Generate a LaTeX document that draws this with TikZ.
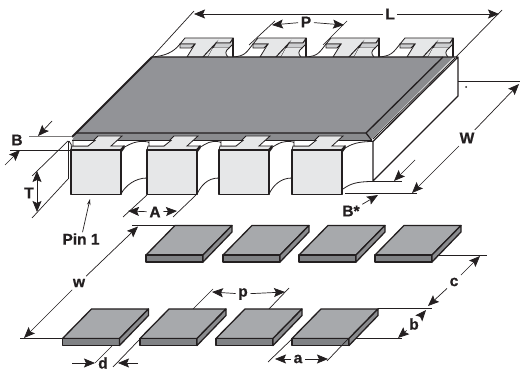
\documentclass[tikz,border=0pt]{standalone}
\usepackage{fontspec}
\setmainfont[BoldFeatures={FakeBold=0.8}]{Liberation Sans}
\usetikzlibrary{arrows.meta}
\definecolor{topGray}{RGB}{146, 147, 151}
\definecolor{bevelGray}{RGB}{138, 139, 142}
\definecolor{pinLight}{RGB}{230, 231, 232}
\definecolor{tabGray}{RGB}{205, 206, 208}
\definecolor{padTop}{RGB}{167, 169, 172}
\definecolor{padFront}{RGB}{128, 130, 133}
\definecolor{lineBlack}{RGB}{35, 31, 32}

\begin{document}
\begin{tikzpicture}[
    x=1pt, y=-1pt,
    % Outline styles
    edge/.style={draw=lineBlack, line width=1.3pt, line join=round},
    thinedge/.style={draw=lineBlack, line width=0.8pt},
    % Dimension styles
    dimline/.style={draw=lineBlack, line width=0.7pt},
    dimarrow/.style={
        draw=lineBlack,
        line width=0.7pt,
        -{Stealth[length=11pt, width=9pt, inset=2pt]}
    },
    dimboth/.style={
        draw=lineBlack,
        line width=0.7pt,
        {Stealth[length=11pt, width=9pt, inset=2pt]}-{Stealth[length=11pt, width=9pt, inset=2pt]}
    },
    dimlabel/.style={
        font=\fontsize{15.5}{15.5}\selectfont\bfseries,
        text=lineBlack,
        inner sep=2.5pt
    },
    % Solder pad, origin at the front top left corner
    padblock/.pic={
        \path[edge, fill=padTop] (0,0) -- (29,-29.5) -- (86,-29.5) -- (57,0) -- cycle;
        \path[edge, fill=padFront] (0,0) -- (57,0) -- (57,7) -- (0,7) -- cycle;
        \path[edge, fill=bevelGray] (57,0) -- (86,-29.5) -- (86,-23) -- (57,7) -- cycle;
    },
    % Front terminal, origin at the top left corner of its face
    frontpin/.pic={
        \path[thinedge, fill=pinLight] (1,-4) -- (17,-4) -- (27,-14) -- (51,-14) -- (40,-4)
            -- (53,-4) -- (49,0) -- (0,0) -- cycle;
        \path[thinedge, fill=white] (2,-9.5) -- (24,-9.5) -- (17,-4) -- (2,-4) -- cycle;
        \path[edge, fill=pinLight] (0,0) rectangle (50,44.5);
        \path[edge, fill=lineBlack] (50,0) -- (53,-4) -- (53,-2) -- (50,2) -- cycle;
    },
    % Back terminal, origin at its lower right corner
    backpin/.pic={
        \path[thinedge, fill=pinLight] (-48,-19) -- (0,-19) -- (-3,-14) -- (-17,-14)
            -- (-30,0) -- (-46,0) -- (-38,-13) -- (-53,-13) -- cycle;
        \path[thinedge, fill=tabGray] (-53,-13) -- (-38,-13) -- (-42,-9) -- (-53,-9) -- cycle;
        \path[thinedge, fill=pinLight] (-30,0) -- (-17,-14) -- (-20,-9) -- (-25,0) -- cycle;
        \path[thinedge, fill=tabGray] (-17,-14) -- (-3,-14) -- (0,-18) -- (0,-13)
            -- (-4,-9) -- (-20,-9) -- cycle;
        \path[fill=pinLight] (-20,-9) -- (-25,0) -- (-6,0) .. controls (-8,-4) and (-8,-7) .. (-4,-9) -- cycle;
        \path[thinedge] (-4,-9) .. controls (-8,-6) and (-8,-3) .. (-5,0);
        \path[edge] (0,-19) -- (0,0);
    }
]
\useasboundingbox (0,0) rectangle (520,371);

% ============================================
% BACK TERMINALS
% ============================================
\foreach \bx/\sx in {233/152, 306/233, 379/306, 453/379} {
    \pic at (\bx,57) {backpin};
    \draw[thinedge] (\sx,57) .. controls (\sx+12,56) and (\bx-60,53) .. (\bx-53,44);
}

% ============================================
% BODY
% ============================================
% Top face
\path[fill=topGray] (152,57) -- (443,57) -- (366,133) -- (76,133) -- cycle;
% Front strip and right bevel
\path[fill=bevelGray] (72,140.5) -- (76,133) -- (366,133) -- (372,140.5) -- cycle;
\path[fill=bevelGray] (443,57) -- (454,57) -- (372,139) -- (366,133) -- cycle;
\draw[edge] (366,133) -- (443,57);
\draw[edge] (76,133) -- (366,133) -- (372,140.5);
\draw[thinedge] (72,140.5) -- (372,140.5);
\draw[line width=1.8pt, draw=lineBlack] (72,137) -- (152,57);
\draw[edge] (152,57) -- (458,57) -- (458,96) -- (373,181) -- (373,141.5) -- (458,57);
\draw[thinedge] (455,58) -- (373,139);

% Left end of the body
\draw[thinedge] (68.5,141) -- (68.5,179);
\draw[thinedge] (69,141) .. controls (71,143) and (72,145) .. (71,150);

% ============================================
% FRONT TERMINALS
% ============================================
\foreach \bx/\nx in {71/147, 147/219, 219/292} {
    \draw[thinedge] (\bx+52,148) .. controls (\bx+60,143) and (\nx-8,140) .. (\nx+1,142)
        .. controls (\nx+4,143) and (\nx+4,146) .. (\nx+3,147);
    \draw[thinedge] (\bx+50,194) .. controls (\bx+54,186) and (\nx-12,178) .. (\nx,178);
}
\foreach \bx in {71, 147, 219, 292} {
    \pic at (\bx,150) {frontpin};
}
% Right end of the body
\draw[thinedge] (345,148) .. controls (352,144) and (358,141.5) .. (373,141.5);
\draw[thinedge] (343,189) .. controls (350,184) and (356,181.5) .. (373,181.5);

% ============================================
% SOLDER PADS
% ============================================
\foreach \px in {146, 223, 299, 375} {
    \pic at (\px,255) {padblock};
}
\foreach \px in {62.5, 140, 216, 292} {
    \pic at (\px,338.5) {padblock};
}

% ============================================
% DIMENSION POINTS
% ============================================
\coordinate (bodyTL) at (152,57);
\coordinate (bodyTR) at (456,57);
\coordinate (extL1) at (194,11);
\coordinate (extL2) at (502,10);
\coordinate (tipL1) at (194,14);
\coordinate (tipL2) at (499,14);
\coordinate (extP1) at (249,45);
\coordinate (extP2) at (275,21);
\coordinate (extP3) at (323,45);
\coordinate (extP4) at (347,21);
\coordinate (tipP1) at (272,25);
\coordinate (tipP2) at (344,25);
\coordinate (wideR) at (458,81);
\coordinate (wideE) at (520,81);
\coordinate (wideB) at (345,193.5);
\coordinate (wideF) at (417,193.5);
\coordinate (tipW1) at (519,84);
\coordinate (tipW2) at (412,193);
\coordinate (starL) at (373,181.5);
\coordinate (starR) at (402,181.5);
\coordinate (starF) at (415,160);
\coordinate (tipS1) at (394,181);
\coordinate (tipS2) at (378,195);
\coordinate (extB1) at (29,136);
\coordinate (extB2) at (72,136);
\coordinate (extB3) at (10,150);
\coordinate (extB4) at (70,150);
\coordinate (farB1) at (52,121);
\coordinate (tipB1) at (38,136);
\coordinate (farB2) at (5,165);
\coordinate (tipB2) at (20,150);
\coordinate (tipT1) at (37,171);
\coordinate (tipT2) at (37,212);
\coordinate (extT1) at (32,176);
\coordinate (extT2) at (68,141);
\coordinate (extT3) at (32,218);
\coordinate (extT4) at (68,179);
\coordinate (tipPin) at (90,199);
\coordinate (extA1) at (123,217);
\coordinate (extA2) at (147,195);
\coordinate (extA3) at (173,217);
\coordinate (extA4) at (196,195);
\coordinate (tipA1) at (128,211);
\coordinate (tipA2) at (177,211);
\coordinate (tipw1) at (138,226.5);
\coordinate (tipw2) at (24,338);
\coordinate (extw1) at (132,225.5);
\coordinate (extw2) at (175,225.5);
\coordinate (extw3) at (20,338.5);
\coordinate (extw4) at (62.5,338.5);
\coordinate (tipp1) at (212,292);
\coordinate (tipp2) at (285,292);
\coordinate (extp1) at (193,309);
\coordinate (extp2) at (213,289);
\coordinate (extp3) at (269,309);
\coordinate (extp4) at (289,288);
\coordinate (tipd1) at (95,363);
\coordinate (tipd2) at (118,363);
\coordinate (fard1) at (72,363);
\coordinate (fard2) at (138,363);
\coordinate (extd1) at (112,346);
\coordinate (extd2) at (95,363);
\coordinate (extd3) at (140,339);
\coordinate (extd4) at (113,367);
\coordinate (tipa1) at (275,359);
\coordinate (tipa2) at (328,359);
\coordinate (exta1) at (292,339);
\coordinate (exta2) at (268,362);
\coordinate (exta3) at (348,339);
\coordinate (exta4) at (327,361);
\coordinate (tipb1) at (398,338);
\coordinate (tipb2) at (426,310);
\coordinate (extb1) at (355,338.5);
\coordinate (extb2) at (402,338.5);
\coordinate (extb3) at (378,308.5);
\coordinate (extb4) at (432,308.5);
\coordinate (tipc1) at (428,306);
\coordinate (tipc2) at (480,256);
\coordinate (extc1) at (437,255);
\coordinate (extc2) at (487,255);

% ============================================
% LABELS
% ============================================
\node[dimlabel] (lblL) at (390,14) {L};
\node[dimlabel] (lblP) at (306,22) {P};
\node[dimlabel] (lblW) at (467,138) {W};
\node[dimlabel] (lblS) at (351,211) {B*};
\node[dimlabel] (lblB) at (17,140) {B};
\node[dimlabel] (lblT) at (29,193) {T};
\node[dimlabel, inner sep=1pt] (lblPin) at (81,239) {Pin 1};
\node[dimlabel] (lblA) at (155,212) {A};
\node[dimlabel] (lblw) at (79,283) {w};
\node[dimlabel] (lblp) at (243,294) {p};
\node[dimlabel, inner sep=0pt] (lbld) at (103,363) {d};
\node[dimlabel] (lbla) at (298,359) {a};
\node[dimlabel] (lblb) at (414,324) {b};
\node[dimlabel] (lblc) at (454,282) {c};

% ============================================
% DIMENSION LINES
% ============================================
% L and P
\draw[dimline] (bodyTL) -- (extL1);
\draw[dimline] (bodyTR) -- (extL2);
\draw[dimarrow] (lblL) -- (tipL1);
\draw[dimarrow] (lblL) -- (tipL2);
\draw[dimline] (extP1) -- (extP2);
\draw[dimline] (extP3) -- (extP4);
\draw[dimarrow] (lblP) -- (tipP1);
\draw[dimarrow] (lblP) -- (tipP2);

% W and B*
\draw[dimline] (wideR) -- (wideE);
\draw[dimline] (wideB) -- (wideF);
\draw[dimarrow] (lblW) -- (tipW1);
\draw[dimarrow] (lblW) -- (tipW2);
\draw[dimline] (starL) -- (starR);
\draw[dimarrow] (starF) -- (tipS1);
\draw[dimarrow] (lblS) -- (tipS2);
\fill[lineBlack] (466,87) circle (1pt);

% B and T
\draw[dimline, draw=lineBlack!60] (extB1) -- (extB2);
\draw[dimline] (extB3) -- (extB4);
\draw[dimarrow] (farB1) -- (tipB1);
\draw[dimarrow] (farB2) -- (tipB2);
\draw[dimline] (extT1) -- (extT2);
\draw[dimline] (extT3) -- (extT4);
\draw[dimboth] (tipT1) -- (tipT2);

% Pin 1 and A
\draw[dimline, -{Stealth[length=6pt, width=3.5pt]}] (lblPin) -- (tipPin);
\draw[dimline] (extA1) -- (extA2);
\draw[dimline] (extA3) -- (extA4);
\draw[dimarrow] (lblA) -- (tipA1);
\draw[dimarrow] (lblA) -- (tipA2);

% w and p
\draw[dimline] (extw1) -- (extw2);
\draw[dimline] (extw3) -- (extw4);
\draw[dimarrow] (lblw) -- (tipw1);
\draw[dimarrow] (lblw) -- (tipw2);
\draw[dimline] (extp1) -- (extp2);
\draw[dimline] (extp3) -- (extp4);
\draw[dimarrow] (lblp) -- (tipp1);
\draw[dimarrow] (lblp) -- (tipp2);

% d and a
\draw[dimline] (extd1) -- (extd2);
\draw[dimline] (extd3) -- (extd4);
\draw[dimarrow] (fard1) -- (tipd1);
\draw[dimarrow] (fard2) -- (tipd2);
\draw[dimline] (exta1) -- (exta2);
\draw[dimline] (exta3) -- (exta4);
\draw[dimarrow] (lbla) -- (tipa1);
\draw[dimarrow] (lbla) -- (tipa2);

% b and c
\draw[dimline] (extb1) -- (extb2);
\draw[dimline] (extb3) -- (extb4);
\draw[dimarrow] (lblb) -- (tipb1);
\draw[dimarrow] (lblb) -- (tipb2);
\draw[dimline] (extc1) -- (extc2);
\draw[dimarrow] (lblc) -- (tipc1);
\draw[dimarrow] (lblc) -- (tipc2);

\end{tikzpicture}
\end{document}
